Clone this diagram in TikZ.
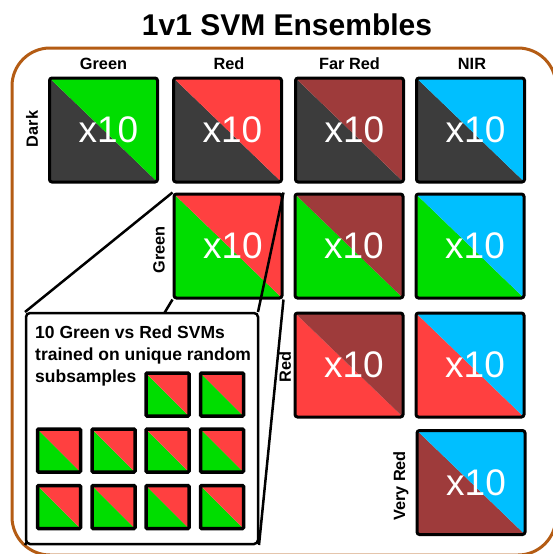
\documentclass[tikz,border=0pt]{standalone}
\usepackage{fontspec}
\setmainfont{Liberation Sans}
\definecolor{gr}{RGB}{0,221,0}
\definecolor{rd}{RGB}{255,64,64}
\definecolor{fr}{RGB}{158,59,59}
\definecolor{cy}{RGB}{0,191,255}
\definecolor{dk}{RGB}{60,60,60}
\definecolor{framec}{RGB}{180,92,20}
\begin{document}
\begin{tikzpicture}[x=1pt,y=-1pt,
  tri/.style 2 args={path picture={
    \fill[#1] (path picture bounding box.north west) -- (path picture bounding box.south west) -- (path picture bounding box.south east) -- cycle;
    \fill[#2] (path picture bounding box.north west) -- (path picture bounding box.north east) -- (path picture bounding box.south east) -- cycle;}},
  bigsq/.style={draw=black, line width=3pt, rounded corners=2.5pt, inner sep=0pt, text=white, font=\fontsize{37}{37}\selectfont, minimum width=108pt, minimum height=104pt},
  smallsq/.style={draw=black, line width=3.5pt, rounded corners=1pt, inner sep=0pt, minimum size=43pt, tri={gr}{rd}},
  lab/.style={font=\fontsize{16.3}{17}\selectfont\bfseries, inner sep=0pt},
  zoomline/.style={draw=black, line width=2.5pt},
  insetbox/.style={draw=black, fill=white, line width=2.5pt, rounded corners=4pt, minimum width=232pt, minimum height=231pt, inner sep=0pt},
  insettext/.style={font=\fontsize{17.5}{22}\selectfont\bfseries, inner sep=0pt, anchor=base west}
]
\useasboundingbox (0,0) rectangle (552,554);
\fill[white] (0,0) rectangle (552,554);
% title
\node[font=\fontsize{30}{32}\selectfont\bfseries, anchor=base, inner sep=0pt] (title) at (287,35) {1v1 SVM Ensembles};
% frame
\draw[framec, line width=3pt, rounded corners=38pt] (12,48) rectangle (556,555);
% column labels
\node[lab, anchor=base] (cg) at (103.5,69) {Green};
\node[lab, anchor=base] (cr) at (229,69) {Red};
\node[lab, anchor=base] (cf) at (349.5,69) {Far Red};
\node[lab, anchor=base] (cn) at (472,69) {NIR};
% row labels
\node[lab, rotate=90] (rdark) at (32,129) {Dark};
\node[lab, rotate=90] (rgreen) at (159,250) {Green};
\node[lab, rotate=90] (rred) at (285,367) {Red};
\node[lab, rotate=90] (rvred) at (401,486) {Very Red};
% row 1
\node[bigsq, tri={dk}{gr}] (a1) at (103.5,130) {\hspace*{10pt}x10};
\node[bigsq, tri={dk}{rd}] (a2) at (227.5,130) {\hspace*{10pt}x10};
\node[bigsq, tri={dk}{fr}] (a3) at (349.5,130) {\hspace*{10pt}x10};
\node[bigsq, tri={dk}{cy}] (a4) at (470.5,130) {\hspace*{10pt}x10};
% row 2
\node[bigsq, tri={gr}{rd}] (b2) at (228,246) {\hspace*{10pt}x10};
\node[bigsq, tri={gr}{fr}] (b3) at (349,246) {\hspace*{10pt}x10};
\node[bigsq, tri={gr}{cy}] (b4) at (470,246) {\hspace*{10pt}x10};
% row 3
\node[bigsq, tri={rd}{fr}] (c3) at (349,365) {\hspace*{10pt}x10};
\node[bigsq, tri={rd}{cy}] (c4) at (470,365) {\hspace*{10pt}x10};
% row 4
\node[bigsq, tri={fr}{cy}] (d4) at (471,482.5) {\hspace*{10pt}x10};
% inset placement and zoom lines
\coordinate (iTL) at (25,312);
\coordinate (iTR) at (258,312);
\coordinate (iBL) at (25,545);
\coordinate (iBR) at (259,545);
\draw[zoomline] (b2.north west) -- (iTL);
\draw[zoomline] (b2.south west) -- (iBL);
\draw[zoomline] (b2.north east) -- (iTR);
\draw[zoomline] (b2.south east) -- (iBR);
\node[insetbox] (ins) at (142,428.5) {};
\node[insettext] (t1) at (35,338) {10 Green vs Red SVMs};
\node[insettext] (t2) at (35,360) {trained on unique random};
\node[insettext] (t3) at (35,382) {subsamples};
% small squares
\node[smallsq] (s1) at (167.5,394.5) {};
\node[smallsq] (s2) at (222,394.5) {};
\node[smallsq] (s3) at (59,450.5) {};
\node[smallsq] (s4) at (113.5,450.5) {};
\node[smallsq] (s5) at (167.5,450.5) {};
\node[smallsq] (s6) at (222,450.5) {};
\node[smallsq] (s7) at (59,507) {};
\node[smallsq] (s8) at (113.5,507) {};
\node[smallsq] (s9) at (167.5,507) {};
\node[smallsq] (s10) at (222,507) {};
\end{tikzpicture}
\end{document}
